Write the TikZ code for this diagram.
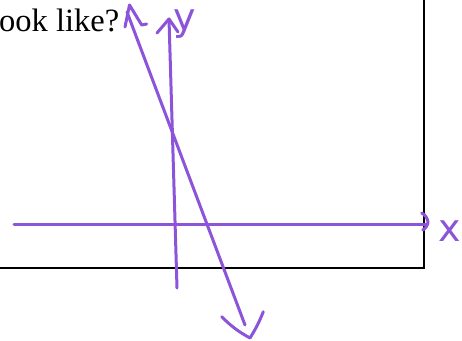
\documentclass[tikz,border=0pt]{standalone}
\usepackage{fontspec}
\setmainfont{Liberation Serif}
\newfontfamily\handfont{DejaVu Sans}
\usetikzlibrary{positioning}

\definecolor{pen}{RGB}{139,84,217}

\begin{document}
\begin{tikzpicture}[
    x=1pt, y=-1pt,
    ink/.style={draw=pen, line width=3pt, line cap=round, line join=round},
    frame/.style={draw=black, line width=2pt},
    hand/.style={text=pen, inner sep=0pt, anchor=base, font=\handfont\fontsize{38}{38}\selectfont}
]
\useasboundingbox (0,0) rectangle (462,340);
\clip (0,0) rectangle (462,340);

% 1. Frame and question text
\draw[frame] (-2,267.5) -| (423.5,-2);
\node[anchor=base west, inner sep=0pt, font=\fontsize{32.5}{38}\selectfont] (question) at (-1,31) {ook like?};

% 2. End points of the strokes
\coordinate (xstart) at (14,224);
\coordinate (xend) at (427,224);
\coordinate (ybot) at (177,288);
\coordinate (ytop) at (169,19);
\coordinate (ltop) at (127,12);
\coordinate (lbot) at (245,325);

% 3. Axes and the steep line
\draw[ink] (xstart) -- (xend);
\draw[ink] (ybot) -- (ytop);
\draw[ink] (ltop) -- (lbot);

% 4. Hand-drawn arrowheads
\draw[ink] (421.7,213) to[bend left=25] (428,222) to[bend left=25] (422.7,230);
\draw[ink] (157,33) -- (ytop) -- (178,32);
\draw[ink] (125,27) -- (129.5,5) -- (141.7,25) -- (146.7,24);
\draw[ink] (221.7,316.7) to[bend right=8] (250,338) to[bend right=5] (263.3,311.7);

% 5. Axis labels
\node[hand] (ylabel) at (185,30) {y};
\node[hand] (xlabel) at (450,241) {x};

\end{tikzpicture}
\end{document}
